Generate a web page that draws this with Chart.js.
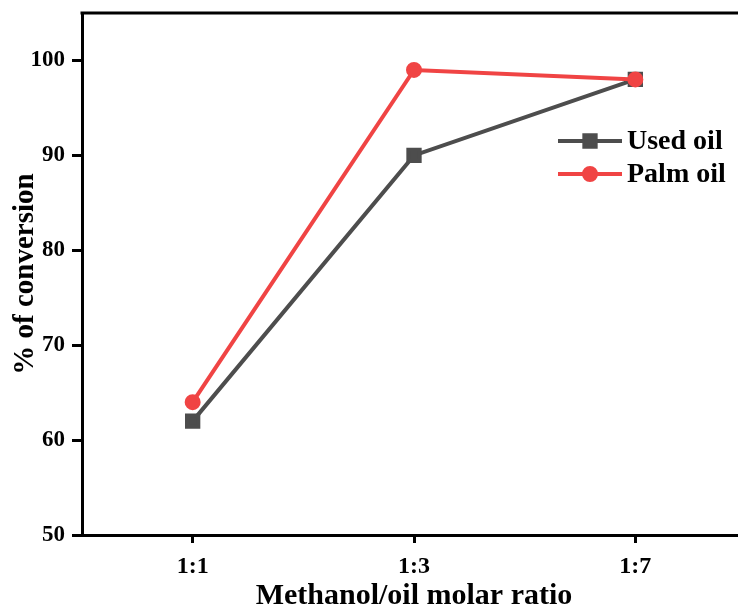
<!DOCTYPE html>
<html>
<head>
<meta charset="utf-8">
<script src="https://cdn.jsdelivr.net/npm/chart.js@4/dist/chart.umd.min.js"></script>
<style>
  html, body { margin: 0; padding: 0; background: #fff; overflow: hidden; width: 738px; height: 608px; }
  canvas { display: block; }
</style>
</head>
<body>
<canvas id="chart" width="758" height="608"></canvas>
<script>
// data
const ratios = ['1:1', '1:3', '1:7'];
const usedOil = [62, 90, 98];
const palmOil = [64, 99, 98];
const yTicks = [50, 60, 70, 80, 90, 100];

const serif = '"Liberation Serif", "Times New Roman", serif';

// top border of the frame
const framePlugin = {
    id: 'frame',
    afterDraw(chart) {
        const { ctx, chartArea } = chart;
        ctx.save();
        ctx.strokeStyle = '#000';
        ctx.lineWidth = 3;
        ctx.beginPath();
        ctx.moveTo(chartArea.left - 1.5, chartArea.top);
        ctx.lineTo(chartArea.right + 20, chartArea.top);
        ctx.stroke();
        ctx.restore();
    }
};

// legend inside the plot, line + marker + label
const legendPlugin = {
    id: 'insideLegend',
    afterDraw(chart) {
        const { ctx } = chart;
        const rows = [chart.data.datasets[1], chart.data.datasets[0]];
        ctx.save();
        rows.forEach((ds, i) => {
            const y = 141 + i * 33;
            ctx.strokeStyle = ds.borderColor;
            ctx.lineWidth = 4;
            ctx.beginPath();
            ctx.moveTo(558, y);
            ctx.lineTo(622, y);
            ctx.stroke();
            Chart.helpers.drawPoint(ctx, {
                pointStyle: ds.pointStyle,
                radius: ds.pointRadius,
                borderWidth: 1
            }, 590, y);
            ctx.fillStyle = ds.pointBackgroundColor;
            ctx.fill();
            ctx.fillStyle = '#000';
            ctx.font = 'bold 28px ' + serif;
            ctx.textBaseline = 'middle';
            ctx.fillText(ds.label, 627, y + 1);
        });
        ctx.restore();
    }
};

new Chart(document.getElementById('chart'), {
    type: 'line',
    data: {
        labels: ratios,
        datasets: [
            {
                label: 'Palm oil',
                data: palmOil,
                borderColor: '#f04444',
                backgroundColor: '#f04444',
                pointBackgroundColor: '#f04444',
                pointBorderColor: '#f04444',
                pointStyle: 'circle',
                pointRadius: 6,
                borderWidth: 4,
                tension: 0,
                order: 1
            },
            {
                label: 'Used oil',
                data: usedOil,
                borderColor: '#4d4d4d',
                backgroundColor: '#4d4d4d',
                pointBackgroundColor: '#4d4d4d',
                pointBorderColor: '#4d4d4d',
                pointStyle: 'rect',
                pointRadius: 8,
                borderWidth: 4,
                tension: 0,
                order: 2
            }
        ]
    },
    options: {
        responsive: false,
        animation: false,
        layout: { padding: { top: 13, right: 1, left: 0, bottom: 0 } },
        plugins: {
            legend: { display: false },
            tooltip: { enabled: false }
        },
        scales: {
            x: {
                offset: true,
                border: { display: true, width: 3, color: '#000' },
                grid: {
                    offset: false,
                    drawOnChartArea: false,
                    tickLength: 8,
                    tickWidth: 3,
                    tickColor: '#000'
                },
                ticks: {
                    color: '#000',
                    padding: 9,
                    font: { family: serif, size: 24, weight: 'bold' }
                },
                title: {
                    display: true,
                    text: 'Methanol/oil molar ratio',
                    color: '#000',
                    padding: { top: 0, bottom: -3 },
                    font: { family: serif, size: 30, weight: 'bold', lineHeight: 1 }
                },
                afterFit(scale) {
                    scale.height = 73;
                    scale.paddingLeft = 0;
                    scale.paddingRight = 0;
                }
            },
            y: {
                min: 50,
                max: 105,
                border: { display: true, width: 3, color: '#000' },
                grid: {
                    drawOnChartArea: false,
                    tickLength: 10,
                    tickWidth: 3,
                    tickColor: '#000'
                },
                ticks: {
                    color: '#000',
                    padding: 7,
                    font: { family: serif, size: 23, weight: 'bold' }
                },
                afterBuildTicks(scale) {
                    scale.ticks = yTicks.map(v => ({ value: v }));
                },
                title: {
                    display: true,
                    text: '% of conversion',
                    color: '#000',
                    padding: { top: 8, bottom: 0 },
                    font: { family: serif, size: 29, weight: 'bold' }
                },
                afterFit(scale) {
                    scale.width = 82;
                    scale.paddingTop = 0;
                    scale.paddingBottom = 0;
                }
            }
        }
    },
    plugins: [framePlugin, legendPlugin]
});
</script>
</body>
</html>
